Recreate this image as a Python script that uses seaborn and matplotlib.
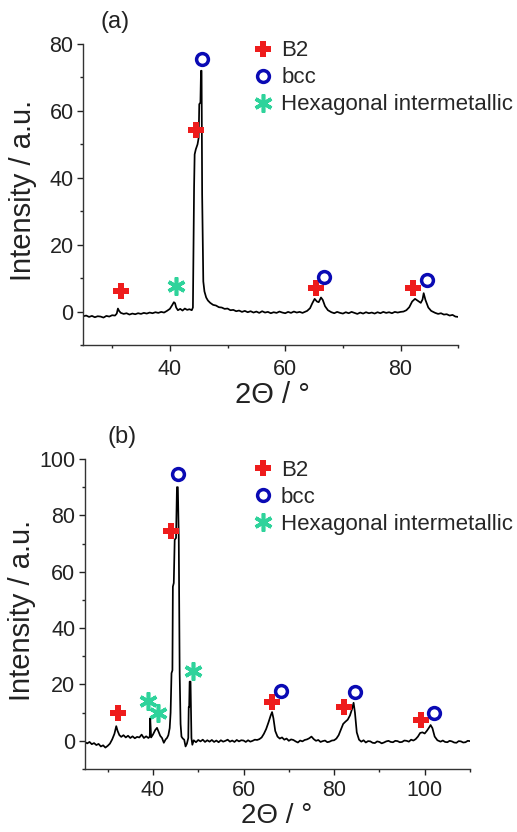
import matplotlib
matplotlib.use("Agg")
import matplotlib.pyplot as plt
import seaborn as sns
import pandas as pd

# ---------------- data ----------------
# Panel (a) XRD pattern
a_two_theta = [25.0, 25.5, 26.0, 26.5, 27.0, 27.5, 28.0, 28.5, 29.0, 29.5, 30.0, 30.5, 30.8, 31.0, 31.2,
               31.5, 32.0, 32.5, 33.0, 33.5, 34.0, 34.5, 35.0, 35.5, 36.0, 36.5, 37.0, 37.5, 38.0, 38.5,
               39.0, 39.5, 40.0, 40.4, 40.7, 40.9, 41.1, 41.4, 41.8, 42.2, 42.6, 43.0, 43.4, 43.8, 44.0,
               44.1, 44.2, 44.3, 44.5, 44.8, 45.0, 45.1, 45.3, 45.4, 45.5, 45.6, 45.8, 46.0, 46.3, 46.6,
               47.0, 47.5, 48.0, 48.5, 49.0, 49.5, 50.0, 50.5, 51.0, 51.5, 52.0, 52.5, 53.0, 53.5, 54.0,
               54.5, 55.0, 55.5, 56.0, 56.5, 57.0, 57.5, 58.0, 58.5, 59.0, 59.5, 60.0, 60.5, 61.0, 61.5,
               62.0, 62.5, 63.0, 63.8, 64.3, 64.7, 65.1, 65.5, 65.8, 66.2, 66.5,
               66.9, 67.4, 68.0, 68.5, 69.0, 69.5, 70.0, 70.5, 71.0, 71.5, 72.0, 72.5, 73.0, 73.5, 74.0,
               74.5, 75.0, 75.5, 76.0, 76.5, 77.0, 77.5, 78.0, 78.5, 79.0, 79.5,
               80.0, 80.5, 81.0, 81.5, 82.0, 82.5, 83.0, 83.5, 83.8, 84.0, 84.3, 84.8, 85.3, 86.0, 86.5,
               87.0, 87.5, 88.0, 88.5, 89.0, 89.5, 90.0]
a_intensity = [-1.4, -1.2, -1.6, -1.3, -1.7, -1.4, -1.5, -1.8, -1.3, -1.5, -1.1, -1.2, -0.6, 0.9, 0.2,
               -0.4, -0.7, -0.5, -0.9, -0.6, -0.8, -0.5, -0.7, -0.4, -0.6, -0.3, -0.5, -0.2, -0.4, -0.1,
               -0.3, 0.2, 0.8, 1.9, 2.8, 2.5, 1.2, 0.4, 0.8, 0.3, 0.9, 0.5, 0.7, 0.4, 1.2,
               20.0, 37.0, 47.0, 48.5, 50.0, 52.0, 62.0, 62.5, 72.0, 72.0, 35.0, 9.0, 6.0, 4.2, 3.3,
               2.6, 2.0, 1.8, 1.3, 1.2, 0.8, 0.9, 0.4, 0.5, 0.1, 0.3, -0.1, 0.2, -0.2, 0.1,
               -0.3, 0.0, -0.4, 0.1, -0.3, -0.1, -0.5, -0.2, -0.4, 0.0, -0.3, -0.5, -0.1, -0.4, 0.0,
               -0.3, -0.1, -0.4, 0.2, 1.0, 2.5, 3.8, 3.0, 2.8, 4.2, 3.5,
               1.6, 0.4, -0.2, -0.5, -0.1, -0.4, -0.6, -0.2, -0.5, -0.1, -0.4, -0.7, -0.3, -0.6, -0.2,
               -0.5, -0.3, -0.6, -0.2, -0.5, -0.1, -0.4, -0.2, -0.5, -0.1, -0.3,
               -0.1, 0.0, 0.4, 1.3, 3.0, 3.8, 3.2, 2.6, 3.6, 5.5, 3.5, 1.2, 0.2, -0.4, -0.7,
               -0.5, -0.9, -0.8, -1.2, -1.0, -1.5, -1.6]

# Panel (b) XRD pattern
b_two_theta = [25.0, 25.5, 26.0, 26.5, 27.0, 27.5, 28.0, 28.5, 29.0, 29.5, 30.0, 30.5, 31.0, 31.5, 31.9,
               32.2, 32.6, 33.0, 33.5, 34.0, 34.5, 35.0, 35.5, 36.0, 36.5, 37.0, 37.5, 38.0, 38.5, 39.0,
               39.3, 39.4, 39.6, 40.0, 40.5, 40.9, 41.3, 41.6, 42.0, 42.4, 42.8, 43.1, 43.4, 43.7, 43.9,
               44.1, 44.3, 44.4, 44.6, 44.8, 45.1, 45.3, 45.5, 45.7, 45.9, 46.1, 46.3, 46.6, 46.9, 47.2,
               47.5, 47.8, 47.9, 48.0, 48.1, 48.3, 48.5, 48.7, 49.0, 49.5, 50.0, 50.5, 51.0, 51.5, 52.0,
               52.5, 53.0, 53.5, 54.0, 54.5, 55.0, 55.5, 56.0, 56.5, 57.0, 57.5, 58.0, 58.5, 59.0, 59.5,
               60.0, 60.5, 61.0, 61.5, 62.0, 62.5, 63.0, 63.5, 64.0, 64.5, 65.0, 65.5, 66.0,
               66.3, 66.6, 67.0, 67.5, 68.0, 68.5, 69.0, 69.5, 70.0, 70.5, 71.0, 71.5, 72.0, 72.5, 73.0,
               73.5, 74.0, 74.5, 75.0, 75.5, 76.0, 76.5, 77.0, 77.5, 78.0, 78.5, 79.0, 79.5,
               80.0, 80.5, 81.0, 81.5, 82.0, 82.5, 83.0, 83.5, 84.0, 84.3, 84.6,
               85.0, 85.5, 86.0, 86.5, 87.0, 87.5, 88.0, 88.5, 89.0, 89.5, 90.0, 90.5, 91.0, 91.5, 92.0,
               92.5, 93.0, 93.5, 94.0, 94.5, 95.0, 95.5, 96.0, 96.5, 97.0, 97.5,
               98.0, 98.5, 99.0, 99.5, 100.0, 100.5, 101.0, 101.3, 101.7, 102.2, 102.8, 103.5, 104.0, 104.5,
               105.0, 105.5, 106.0, 106.5, 107.0, 107.5, 108.0, 108.5, 109.0, 109.5, 110.0]
b_intensity = [-0.5, -0.9, -0.4, -1.2, -0.8, -1.5, -1.1, -2.0, -1.6, -2.4, -1.8, -1.0, 0.5, 2.5, 5.2,
               3.5, 2.0, 1.4, 2.0, 1.2, 1.8, 1.0, 1.6, 0.9, 1.4, 1.2, 2.2, 1.0, 1.6, 1.0,
               1.5, 8.0, 1.2, 2.2, 3.8, 4.6, 3.0, 1.8, 1.0, -0.7, 0.5, 1.0, 2.0, 4.5, 10.0,
               24.0, 25.0, 54.7, 56.0, 71.3, 72.0, 90.0, 90.0, 72.0, 24.0, 6.0, 1.5, 0.8, 0.4, -2.0,
               -1.0, 1.0, 12.0, 12.0, 21.0, 21.0, 1.0, -1.4, 0.2, -0.5, 0.3, -0.2, 0.4, -0.4, 0.2,
               -0.3, 0.3, -0.4, 0.1, -0.5, 0.2, -0.3, 0.0, 0.4, -0.3, 0.1, -0.4, 0.3, -0.2, 0.2,
               0.1, -0.4, 0.2, -0.3, 0.0, 0.4, 0.3, 0.6, 1.2, 2.5, 4.2, 6.5, 9.0,
               10.2, 8.0, 3.5, 1.5, 0.8, 1.2, 0.4, 0.8, 0.0, 0.5, 0.3, -0.2, -0.6, 0.1, -0.2,
               0.3, 0.5, 0.9, 1.5, 0.6, 0.0, 0.3, -0.4, -0.1, 0.1, -0.5, -0.3, 0.1,
               0.2, 0.8, 2.0, 4.0, 6.0, 6.8, 7.5, 9.0, 11.5, 13.5, 10.0,
               3.0, 0.4, -0.3, 0.2, -0.6, -0.1, -0.2, -0.7, -0.8, -0.2, -0.4, -0.9, -0.6, -0.2, 0.0,
               -0.4, -0.5, 0.0, -0.1, -0.5, -0.4, 0.1, 0.0, -0.3, 0.4, 0.1,
               0.6, 1.5, 2.8, 3.0, 2.6, 3.6, 4.8, 5.6, 4.5, 1.5, 0.2, -0.3, 0.1, -0.4,
               -0.5, 0.0, -0.2, -0.6, -0.7, -0.1, -0.2, -0.6, -0.5, 0.0, -0.1]

# Phase markers (2theta, height)
a_b2_x, a_b2_y = [31.5, 44.5, 65.4, 82.2], [6.0, 54.3, 7.0, 7.0]
a_bcc_x, a_bcc_y = [45.6, 66.7, 84.6], [75.4, 10.4, 9.4]
a_hex_x, a_hex_y = [41.0], [7.5]

b_b2_x, b_b2_y = [32.2, 44.0, 66.3, 82.2, 99.2], [9.8, 74.5, 13.9, 11.9, 7.4]
b_bcc_x, b_bcc_y = [45.5, 68.3, 84.6, 102.0], [94.6, 17.8, 17.5, 9.8]
b_hex_x, b_hex_y = [38.8, 41.1, 48.8], [14.2, 9.8, 24.9]

phase_labels = ["B2", "bcc", "Hexagonal intermetallic"]
panel_labels = ["(a)", "(b)"]
a_xticks = [40, 60, 80]
a_yticks = [0, 20, 40, 60, 80]
b_xticks = [40, 60, 80, 100]
b_yticks = [0, 20, 40, 60, 80, 100]

# ---------------- styling ----------------
sns.set_theme(style="ticks")
plt.rcParams["font.family"] = ["Liberation Sans", "DejaVu Sans"]

RED = "#ee1c1c"
BLUE = "#0a0ab4"
GREEN = "#2fd39b"
TXT = "#222222"

fig = plt.figure(figsize=(5.17, 8.32), dpi=100)
fig.patch.set_facecolor("white")

W, H = 517.0, 832.0
def axes_rect(l, r, t, b):
    return [l / W, 1 - b / H, (r - l) / W, (b - t) / H]

ax_a = fig.add_axes(axes_rect(83.3, 458.3, 44, 345))
ax_b = fig.add_axes(axes_rect(85, 470, 459, 769))

style = {
    "B2": dict(marker="P", color=RED, markersize=11, markeredgewidth=0, linestyle="none"),
    "bcc": dict(marker="o", markerfacecolor="none", markeredgecolor=BLUE, markersize=8.5,
                markeredgewidth=2.5, linestyle="none"),
    "hex": dict(marker=(6, 2, 0), color=GREEN, markersize=13, markeredgewidth=2.6, linestyle="none"),
}

panels = [
    (ax_a, a_two_theta, a_intensity, (a_b2_x, a_b2_y), (a_bcc_x, a_bcc_y), (a_hex_x, a_hex_y),
     (25, 90), (-10, 80), a_xticks, a_yticks, (0.452, 1.012), 6),
    (ax_b, b_two_theta, b_intensity, (b_b2_x, b_b2_y), (b_bcc_x, b_bcc_y), (b_hex_x, b_hex_y),
     (25, 110), (-10, 100), b_xticks, b_yticks, (0.435, 0.996), 4),
]

for (ax, xs, ys, b2, bcc, hexm, xl, yl, xt, yt, leg_anchor, xpad) in panels:
    df = pd.DataFrame({"two_theta": xs, "intensity": ys})
    sns.lineplot(data=df, x="two_theta", y="intensity", ax=ax, color="black",
                 linewidth=1.25, estimator=None, sort=False)
    h1, = ax.plot(b2[0], b2[1], **style["B2"])
    h2, = ax.plot(bcc[0], bcc[1], **style["bcc"])
    h3, = ax.plot(hexm[0], hexm[1], **style["hex"])
    ax.set_xlim(*xl)
    ax.set_ylim(*yl)
    ax.set_xticks(xt)
    ax.set_yticks(yt)
    ax.set_xticks(list(range(30, xl[1] + 1, 20)), minor=True)
    ax.set_yticks(list(range(yl[0], yl[1], 20)), minor=True)
    ax.set_xlabel("")
    ax.set_ylabel("")
    ax.tick_params(axis="both", which="major", direction="out", length=4, width=1,
                   labelsize=15.5, colors=TXT)
    ax.tick_params(axis="both", which="minor", direction="out", length=2.5, width=1)
    ax.tick_params(axis="x", which="major", pad=xpad)
    ax.tick_params(axis="y", which="major", pad=3)
    for s in ["top", "right"]:
        ax.spines[s].set_visible(False)
    for s in ["left", "bottom"]:
        ax.spines[s].set_linewidth(1.0)
        ax.spines[s].set_color("#333333")
    ax.legend([h1, h2, h3], phase_labels, loc="upper left", bbox_to_anchor=leg_anchor,
              frameon=False, fontsize=16, borderpad=0, handlelength=0.95,
              handletextpad=0.33, labelspacing=0.27, borderaxespad=0)

# Panel letters
fig.text(115 / W, 1 - 22 / H, panel_labels[0], fontsize=17, ha="center", va="center", color=TXT)
fig.text(122 / W, 1 - 437 / H, panel_labels[1], fontsize=17, ha="center", va="center", color=TXT)

# Axis labels
for (cx, cy) in [(23, 190), (22, 610)]:
    fig.text(cx / W, 1 - cy / H, "Intensity / a.u.", fontsize=21, rotation=90,
             ha="center", va="center", color=TXT)
for (cx, cy, fs) in [(272, 395, 21), (277, 816, 20)]:
    fig.text(cx / W, 1 - cy / H, "2\u0398 / \u00b0", fontsize=fs,
             ha="center", va="center", color=TXT)

fig.savefig("out.png", dpi=100, facecolor="white")
